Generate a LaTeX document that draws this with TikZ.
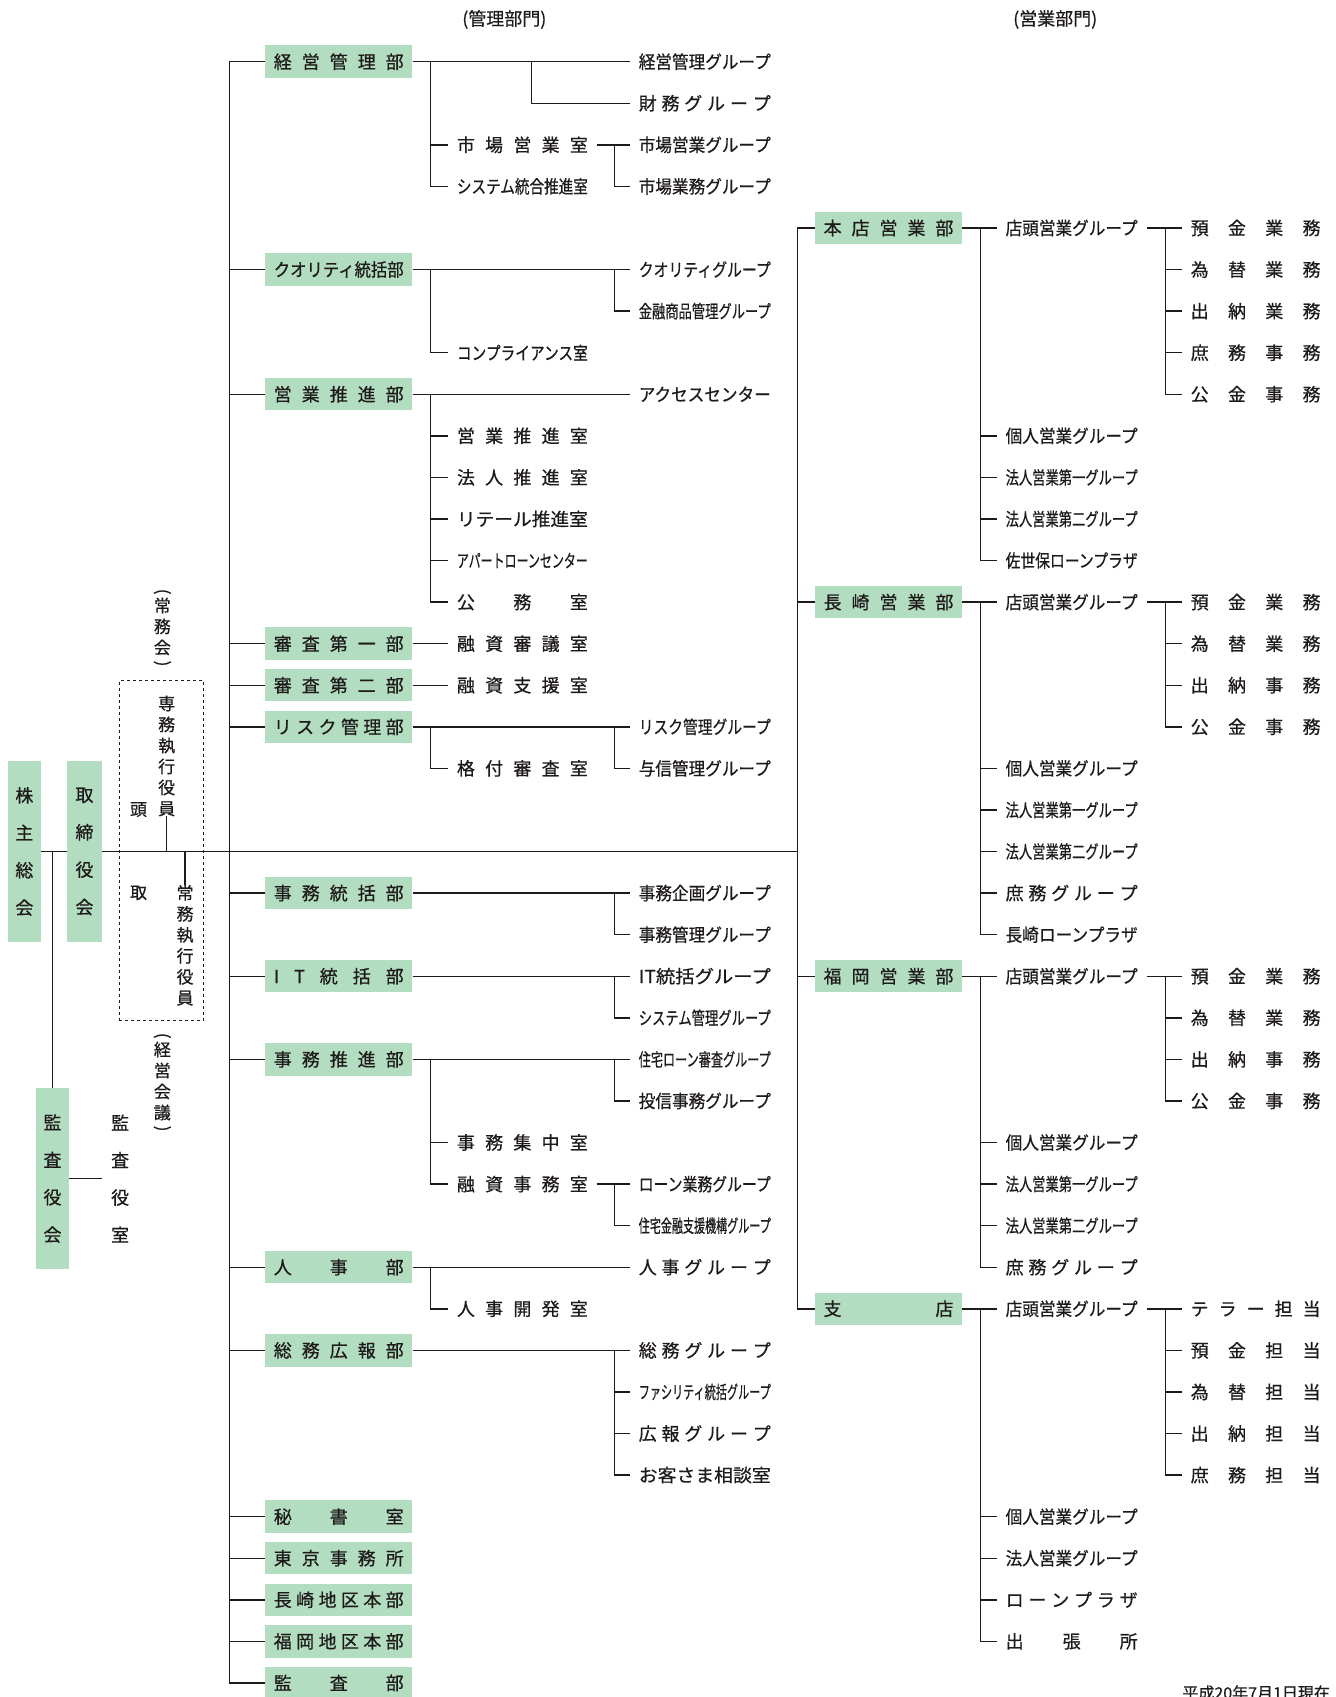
\documentclass[tikz,border=0pt]{standalone}
\usepackage{fontspec}
\setmainfont{Noto Sans CJK JP}[FakeBold=0.6]
\usepackage{graphicx}

\definecolor{boxgreen}{RGB}{179,221,193}
\definecolor{ink}{RGB}{30,26,26}
\newlength\unitlen \setlength\unitlen{1.0827pt}
\newlength\tw \newlength\tv
% label set to a fixed width: spread at its spaces if short, else fitted
\newcommand\jt[2][121]{{%
  \settowidth\tw{\spaceskip=0pt plus 1fil\relax #2}%
  \settowidth\tv{\spaceskip=10pt\relax #2}%
  \spaceskip=0pt plus 1fil\relax
  \ifdim\tw=\tv \resizebox{#1\unitlen}{\height}{#2}%
  \else\ifdim\tw>#1\unitlen \resizebox{#1\unitlen}{\height}{#2}%
  \else \makebox[#1\unitlen][s]{#2}\fi\fi}}
\newcommand\rowy[1]{57+38.41*#1}
\newcommand\vparl{\rotatebox[origin=c]{-90}{(}}
\newcommand\vparr{\rotatebox[origin=c]{-90}{)}}

\begin{document}
\begin{tikzpicture}[
    x=\unitlen, y=-\unitlen,
    dept/.style={fill=boxgreen, minimum width=136\unitlen, minimum height=30\unitlen, inner xsep=8\unitlen, inner ysep=0pt, text=ink, font=\fontsize{18pt}{20pt}\selectfont},
    lbl/.style={anchor=west, inner xsep=8\unitlen, inner ysep=2\unitlen, text=ink, font=\fontsize{18pt}{20pt}\selectfont},
    vbox/.style={fill=boxgreen, minimum width=32\unitlen, minimum height=167\unitlen, inner sep=0pt, align=center, text=ink, font=\fontsize{18pt}{37.4pt}\selectfont},
    vtxt/.style={align=center, inner xsep=8\unitlen, inner ysep=3\unitlen, text=ink, font=\fontsize{17pt}{21pt}\selectfont},
    link/.style={draw=ink, line width=1.4pt},
]
    \path[use as bounding box] (0,0) rectangle (1234,1568);

    % trunk positions
    \coordinate (kt) at (212,0);
    \coordinate (et) at (737,0);
    \coordinate (cz) at (491,0);
    \coordinate (c2) at (398,0);
    \coordinate (c3) at (568,0);
    \coordinate (b2) at (906,0);
    \coordinate (b3) at (1077,0);

    % headings
    \node[text=ink, font=\fontsize{18pt}{20pt}\selectfont] (kanribumon) at (466,18) {(管理部門)};
    \node[text=ink, font=\fontsize{18pt}{20pt}\selectfont] (eigyobumon) at (975,18) {(営業部門)};
    \node[anchor=north east, inner sep=0pt, text=ink, font=\fontsize{16pt}{18pt}\selectfont] (asof) at (1229,1557) {平成20年7月1日現在};

    % top of the chart
    \node[vbox, minimum width=31\unitlen] (kabunushi) at (22.5,{\rowy{19}}) {株\\主\\総\\会};
    \node[vbox] (torishimari) at (78,{\rowy{19}}) {取\\締\\役\\会};
    \node[vbox, minimum width=31\unitlen] (kansayaku) at (48.5,1089) {監\\査\\役\\会};
    \node[vtxt, font=\fontsize{18pt}{37.4pt}\selectfont] (kansashitsu) at (111,1089) {監\\査\\役\\室};

    \node[draw=ink, dashed, line width=1pt, minimum width=78\unitlen, minimum height=314\unitlen] (yakuin) at (149,786) {};
    \node[vtxt] (tou) at (128,748) {頭};
    \node[vtxt] (dori) at (128,825) {取};
    \node[vtxt, inner ysep=0pt] (senmu) at (154,698.5) {専\\務\\執\\行\\役\\員};
    \node[vtxt, inner ysep=0pt] (jomu) at (171,873.5) {常\\務\\執\\行\\役\\員};
    \node[vtxt] (jomukai) at (150,581) {\vparl\\[-6pt]常\\務\\会\\[-6pt]\vparr};
    \node[vtxt] (keieikaigi) at (150,1001) {\vparl\\[-6pt]経\\営\\会\\議\\[-6pt]\vparr};

    \draw[link] (kabunushi) -- (torishimari);
    \draw[link] (torishimari.east) -- (torishimari.east -| et);
    \draw[link] (kansayaku.north) -- (kansayaku.north |- kabunushi.east);
    \draw[link] (kansayaku) -- (kansashitsu);
    \draw[link] (senmu.south) -- (senmu.south |- kabunushi.east);
    \draw[link] (jomu.north) -- (jomu.north |- kabunushi.east);

    % 管理部門
    \foreach \nm/\r/\txt in {
        keiei/0/経 営 管 理 部,
        quality/5/クオリティ統括部,
        eisui/8/営 業 推 進 部,
        shinsa1/14/審 査 第 一 部,
        shinsa2/15/審 査 第 二 部,
        risk/16/リ ス ク 管 理 部,
        jimutou/20/事 務 統 括 部,
        itt/22/I T 統 括 部,
        jimusui/24/事 務 推 進 部,
        jinji/29/人 事 部,
        somu/31/総 務 広 報 部,
        hisho/35/秘 書 室,
        tokyo/36/東 京 事 務 所,
        nchiku/37/長 崎 地 区 本 部,
        fchiku/38/福 岡 地 区 本 部,
        kansa/39/監 査 部}
        \node[dept] (\nm) at (313,{\rowy{\r}}) {\jt[120]{\txt}};

    \foreach \nm/\x/\r/\w/\txt in {
        keieiG/582/0/122/経営管理グループ,
        zaimuG/582/1/122/財 務 グ ル ー プ,
        shijo/414/2/121/市 場 営 業 室,
        shijoeiG/582/2/122/市場営業グループ,
        sysint/414/3/121/システム統合推進室,
        shijogyoG/582/3/122/市場業務グループ,
        qualityG/582/5/122/クオリティグループ,
        kinyuG/582/6/122/金融商品管理グループ,
        compl/414/7/121/コンプライアンス室,
        access/582/8/122/アクセスセンター,
        eisuishitsu/414/9/121/営 業 推 進 室,
        hojinshitsu/414/10/121/法 人 推 進 室,
        retail/414/11/121/リテール推進室,
        apart/414/12/121/アパートローンセンター,
        komu/414/13/121/公 務 室,
        shingi/414/14/121/融 資 審 議 室,
        shien/414/15/121/融 資 支 援 室,
        riskG/582/16/122/リスク管理グループ,
        kakuzuke/414/17/121/格 付 審 査 室,
        yoshinG/582/17/122/与信管理グループ,
        jkikakuG/582/20/122/事務企画グループ,
        jkanriG/582/21/122/事務管理グループ,
        itG/582/22/122/IT統括グループ,
        sysmgG/582/23/122/システム管理グループ,
        jutakuG/582/24/122/住宅ローン審査グループ,
        toshinG/582/25/122/投信事務グループ,
        shuchu/414/26/121/事 務 集 中 室,
        yushijimu/414/27/121/融 資 事 務 室,
        loanG/582/27/122/ローン業務グループ,
        kikoG/582/28/122/住宅金融支援機構グループ,
        jinjiG/582/29/122/人 事 グ ル ー プ,
        kaihatsu/414/30/121/人 事 開 発 室,
        somuG/582/31/122/総 務 グ ル ー プ,
        facilityG/582/32/122/ファシリティ統括グループ,
        kohoG/582/33/122/広 報 グ ル ー プ,
        okyaku/582/34/122/お客さま相談室}
        \node[lbl] (\nm) at (\x,{\rowy{\r}}) {\jt[\w]{\txt}};

    \draw[link] (keiei.west) -- (keiei.west -| kt) -- (kansa.west -| kt) -- (kansa.west);
    \foreach \nm in {quality,eisui,shinsa1,shinsa2,risk,jimutou,itt,jimusui,jinji,somu,hisho,tokyo,nchiku,fchiku}
        \draw[link] (\nm.west) -- (\nm.west -| kt);

    \draw[link] (keiei) -- (keieiG);
    \draw[link] (keiei.east -| cz) |- (zaimuG.west);
    \draw[link] (keiei.east -| c2) |- (sysint.west);
    \draw[link] (shijo.west -| c2) -- (shijo.west);
    \draw[link] (shijo) -- (shijoeiG);
    \draw[link] (shijo.east -| c3) |- (shijogyoG.west);

    \draw[link] (quality) -- (qualityG);
    \draw[link] (quality.east -| c3) |- (kinyuG.west);
    \draw[link] (quality.east -| c2) |- (compl.west);

    \draw[link] (eisui) -- (access);
    \draw[link] (eisui.east -| c2) |- (komu.west);
    \foreach \nm in {eisuishitsu,hojinshitsu,retail,apart}
        \draw[link] (\nm.west -| c2) -- (\nm.west);

    \draw[link] (shinsa1) -- (shingi);
    \draw[link] (shinsa2) -- (shien);

    \draw[link] (risk) -- (riskG);
    \draw[link] (risk.east -| c3) |- (yoshinG.west);
    \draw[link] (risk.east -| c2) |- (kakuzuke.west);

    \draw[link] (jimutou) -- (jkikakuG);
    \draw[link] (jimutou.east -| c3) |- (jkanriG.west);
    \draw[link] (itt) -- (itG);
    \draw[link] (itt.east -| c3) |- (sysmgG.west);

    \draw[link] (jimusui) -- (jutakuG);
    \draw[link] (jimusui.east -| c3) |- (toshinG.west);
    \draw[link] (jimusui.east -| c2) |- (yushijimu.west);
    \draw[link] (shuchu.west -| c2) -- (shuchu.west);
    \draw[link] (yushijimu) -- (loanG);
    \draw[link] (yushijimu.east -| c3) |- (kikoG.west);

    \draw[link] (jinji) -- (jinjiG);
    \draw[link] (jinji.east -| c2) |- (kaihatsu.west);

    \draw[link] (somu) -- (somuG);
    \draw[link] (somu.east -| c3) |- (okyaku.west);
    \foreach \nm in {facilityG,kohoG}
        \draw[link] (\nm.west -| c3) -- (\nm.west);

    % 営業部門
    \foreach \nm/\r/\txt in {
        honten/4/本 店 営 業 部,
        nagasaki/13/長 崎 営 業 部,
        fukuoka/22/福 岡 営 業 部,
        shiten/30/支 店}
        \node[dept] (\nm) at (821,{\rowy{\r}}) {\jt[120]{\txt}};

    \foreach \nm/\x/\r/\w/\txt in {
        hTento/921/4/122/店頭営業グループ,
        hKojin/921/9/122/個人営業グループ,
        hHojin1/921/10/122/法人営業第一グループ,
        hHojin2/921/11/122/法人営業第二グループ,
        hSasebo/921/12/122/佐世保ローンプラザ,
        hYokin/1092/4/120/預 金 業 務,
        hKawase/1092/5/120/為 替 業 務,
        hSuito/1092/6/120/出 納 業 務,
        hShomu/1092/7/120/庶 務 事 務,
        hKokin/1092/8/120/公 金 事 務,
        nTento/921/13/122/店頭営業グループ,
        nKojin/921/17/122/個人営業グループ,
        nHojin1/921/18/122/法人営業第一グループ,
        nHojin2/921/19/122/法人営業第二グループ,
        nShomu/921/20/122/庶 務 グ ル ー プ,
        nLoan/921/21/122/長崎ローンプラザ,
        nYokin/1092/13/120/預 金 業 務,
        nKawase/1092/14/120/為 替 業 務,
        nSuito/1092/15/120/出 納 事 務,
        nKokin/1092/16/120/公 金 事 務,
        fTento/921/22/122/店頭営業グループ,
        fKojin/921/26/122/個人営業グループ,
        fHojin1/921/27/122/法人営業第一グループ,
        fHojin2/921/28/122/法人営業第二グループ,
        fShomu/921/29/122/庶 務 グ ル ー プ,
        fYokin/1092/22/120/預 金 業 務,
        fKawase/1092/23/120/為 替 業 務,
        fSuito/1092/24/120/出 納 事 務,
        fKokin/1092/25/120/公 金 事 務,
        sTento/921/30/122/店頭営業グループ,
        sKojin/921/35/122/個人営業グループ,
        sHojin/921/36/122/法人営業グループ,
        sLoan/921/37/122/ロ ー ン プ ラ ザ,
        sShutcho/921/38/122/出 張 所,
        sTeller/1092/30/120/テ ラ ー 担 当,
        sYokin/1092/31/120/預 金 担 当,
        sKawase/1092/32/120/為 替 担 当,
        sSuito/1092/33/120/出 納 担 当,
        sShomu/1092/34/120/庶 務 担 当}
        \node[lbl] (\nm) at (\x,{\rowy{\r}}) {\jt[\w]{\txt}};

    \draw[link] (honten.west) -- (honten.west -| et) -- (shiten.west -| et) -- (shiten.west);
    \foreach \nm in {nagasaki,fukuoka}
        \draw[link] (\nm.west) -- (\nm.west -| et);

    \draw[link] (honten) -- (hTento);
    \draw[link] (honten.east -| b2) |- (hSasebo.west);
    \foreach \nm in {hKojin,hHojin1,hHojin2}
        \draw[link] (\nm.west -| b2) -- (\nm.west);
    \draw[link] (hTento) -- (hYokin);
    \draw[link] (hTento.east -| b3) |- (hKokin.west);
    \foreach \nm in {hKawase,hSuito,hShomu}
        \draw[link] (\nm.west -| b3) -- (\nm.west);

    \draw[link] (nagasaki) -- (nTento);
    \draw[link] (nagasaki.east -| b2) |- (nLoan.west);
    \foreach \nm in {nKojin,nHojin1,nHojin2,nShomu}
        \draw[link] (\nm.west -| b2) -- (\nm.west);
    \draw[link] (nTento) -- (nYokin);
    \draw[link] (nTento.east -| b3) |- (nKokin.west);
    \foreach \nm in {nKawase,nSuito}
        \draw[link] (\nm.west -| b3) -- (\nm.west);

    \draw[link] (fukuoka) -- (fTento);
    \draw[link] (fukuoka.east -| b2) |- (fShomu.west);
    \foreach \nm in {fKojin,fHojin1,fHojin2}
        \draw[link] (\nm.west -| b2) -- (\nm.west);
    \draw[link] (fTento) -- (fYokin);
    \draw[link] (fTento.east -| b3) |- (fKokin.west);
    \foreach \nm in {fKawase,fSuito}
        \draw[link] (\nm.west -| b3) -- (\nm.west);

    \draw[link] (shiten) -- (sTento);
    \draw[link] (shiten.east -| b2) |- (sShutcho.west);
    \foreach \nm in {sKojin,sHojin,sLoan}
        \draw[link] (\nm.west -| b2) -- (\nm.west);
    \draw[link] (sTento) -- (sTeller);
    \draw[link] (sTento.east -| b3) |- (sShomu.west);
    \foreach \nm in {sYokin,sKawase,sSuito}
        \draw[link] (\nm.west -| b3) -- (\nm.west);
\end{tikzpicture}
\end{document}
